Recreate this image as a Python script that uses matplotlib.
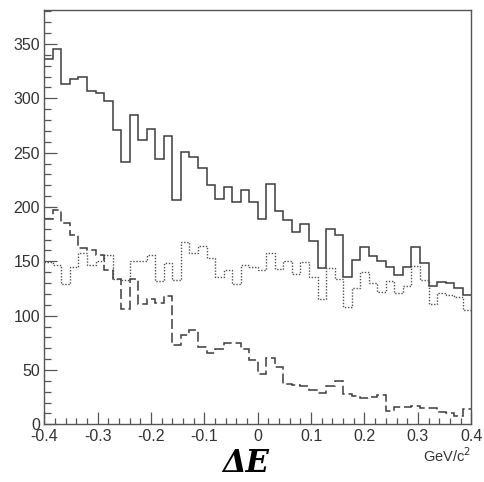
import numpy as np
import matplotlib
matplotlib.use("Agg")
import matplotlib.pyplot as plt
from matplotlib.ticker import MultipleLocator, FixedLocator

# Histogram binning: 50 bins over [-0.4, 0.4] GeV/c^2
x_min, x_max, n_bins = -0.4, 0.4, 50

# Bin contents
total = [336, 345, 313, 318, 320, 307, 305, 298, 271, 241,
         285, 262, 272, 244, 265, 206, 251, 246, 236, 220,
         207, 218, 205, 216, 205, 189, 221, 196, 188, 177,
         184, 169, 144, 180, 174, 136, 151, 163, 155, 150,
         145, 137, 145, 163, 148, 127, 131, 130, 125, 119]

background = [149, 147, 129, 145, 158, 147, 150, 156, 134, 133,
              150, 150, 156, 132, 148, 133, 168, 158, 164, 153,
              136, 142, 129, 147, 145, 142, 158, 143, 150, 138,
              149, 136, 115, 144, 134, 108, 125, 140, 130, 122,
              132, 121, 127, 146, 133, 111, 121, 119, 117, 105]

signal = [189, 197, 185, 174, 162, 160, 156, 142, 134, 106,
          134, 111, 115, 112, 118, 73, 82, 87, 71, 66,
          69, 75, 75, 69, 59, 46, 61, 53, 37, 36,
          35, 32, 29, 35, 40, 28, 26, 24, 25, 27,
          12, 16, 16, 17, 15, 15, 11, 10, 8, 14]

x_ticks = [-0.4, -0.3, -0.2, -0.1, 0, 0.1, 0.2, 0.3, 0.4]
x_tick_labels = ["-0.4", "-0.3", "-0.2", "-0.1", "0", "0.1", "0.2", "0.3", "0.4"]
y_ticks = [0, 50, 100, 150, 200, 250, 300, 350]

edges = np.linspace(x_min, x_max, n_bins + 1)

plt.rcParams['font.family'] = ['Liberation Sans', 'DejaVu Sans']

fig = plt.figure(figsize=(4.85, 4.82), dpi=100)
ax = fig.add_axes([0.0913, 0.1197, 0.8803, 0.8589])

ax.stairs(total, edges, baseline=None, color='#3c3c3c', lw=1.1)
ax.stairs(background, edges, baseline=None, color='#505050', lw=1.0,
          linestyle=(0, (1.0, 1.2)))
ax.stairs(signal, edges, baseline=None, color='#3c3c3c', lw=1.1,
          linestyle=(0, (6.5, 2.5)))

ax.set_xlim(x_min, x_max)
ax.set_ylim(0, 381)

frame_color = '#555555'
for s in ax.spines.values():
    s.set_color(frame_color)
    s.set_linewidth(1.0)

ax.xaxis.set_major_locator(FixedLocator(x_ticks))
ax.set_xticklabels(x_tick_labels)
ax.xaxis.set_minor_locator(MultipleLocator(0.02))
ax.yaxis.set_major_locator(FixedLocator(y_ticks))
ax.yaxis.set_minor_locator(MultipleLocator(10))

ax.tick_params(axis='both', which='both', direction='in', color=frame_color,
               labelcolor='#333333', labelsize=11.5, top=False, right=False)
ax.tick_params(axis='x', which='major', length=8.5, width=0.9, pad=3.5)
ax.tick_params(axis='x', which='minor', length=4.5, width=0.9)
ax.tick_params(axis='y', which='major', length=9.5, width=0.9, pad=3)
ax.tick_params(axis='y', which='minor', length=5, width=0.9)

fig.text(0.9716, 0.054, "GeV/c$^{2}$", ha='right', va='center',
         fontsize=10.5, color='#333333')

fig.text(0.507, 0.006, "ΔE", ha='center', va='bottom', fontsize=22,
         fontweight='bold', fontstyle='italic', family='DejaVu Serif',
         color='black')

fig.savefig("out.png", dpi=100)
